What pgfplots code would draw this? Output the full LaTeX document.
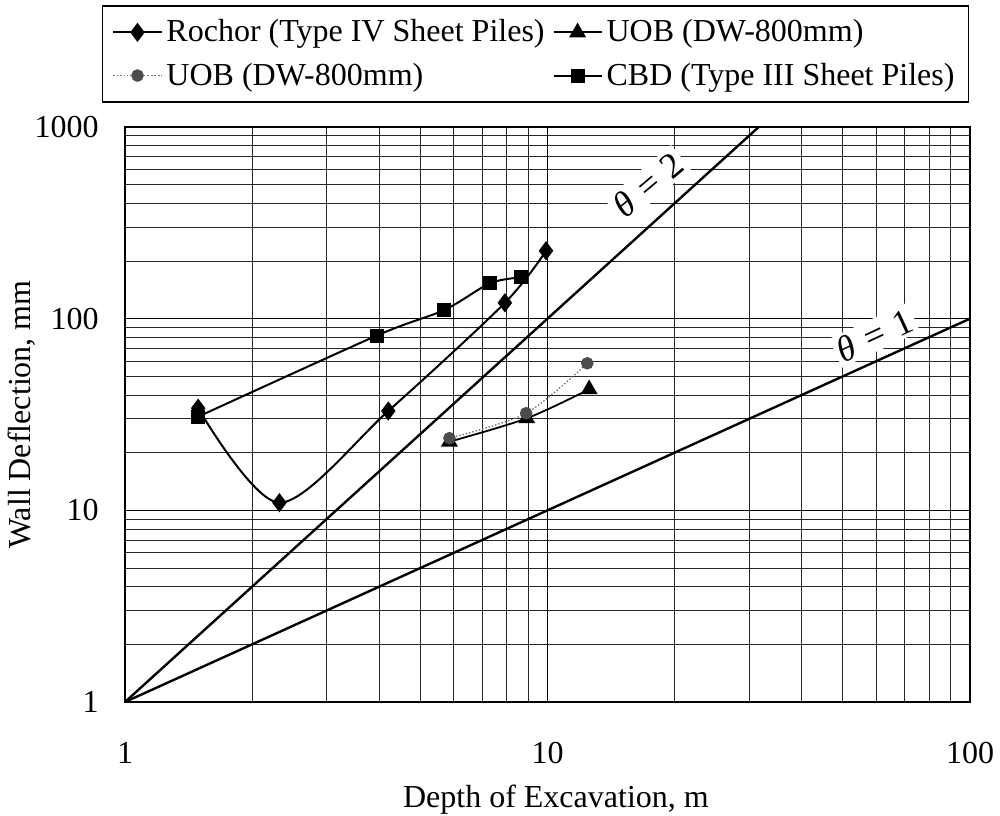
\documentclass[border=0pt]{standalone}
\usepackage{pgfplots}
\pgfplotsset{compat=1.18}
\usepackage{fontspec}
\setmainfont{Liberation Serif}

\begin{document}
\begin{tikzpicture}[font=\fontsize{16bp}{19bp}\selectfont]
\begin{loglogaxis}[
  at={(62.5bp,57bp)}, anchor=south west,
  scale only axis, width=422.5bp, height=287.5bp,
  xmin=1, xmax=100, ymin=1, ymax=1000,
  xtick={1,10,100}, xticklabels={1,10,100},
  ytick={1,10,100,1000}, yticklabels={1,10,100,1000},
  minor xtick={2,3,4,5,6,7,8,9,20,30,40,50,60,70,80,90},
  minor ytick={2,3,4,5,6,7,8,9,20,30,40,50,60,70,80,90,200,300,400,500,600,700,800,900},
  major tick length=0pt, minor tick length=0pt,
  grid=both,
  major grid style={black, line width=0.5bp},
  minor grid style={black!85, line width=0.4bp},
  axis line style={black, line width=1bp},
  xticklabel style={inner sep=0pt, anchor=north, yshift=-20bp},
  yticklabel style={inner sep=0pt, anchor=east, xshift=-13bp},
  xlabel={Depth of Excavation, m},
  ylabel={Wall Deflection, mm},
  every axis x label/.style={at={(axis description cs:0.51,-0.17)}, anchor=center},
  every axis y label/.style={at={(axis description cs:-0.122,0.5)}, anchor=center, rotate=90},
  legend columns=2, legend cell align=left,
  legend style={at={(axis description cs:0.4858,1.127)}, anchor=center,
    draw=black, line width=0.7bp, inner xsep=5bp, inner ysep=5bp, row sep=5bp,
    /tikz/every even column/.append style={column sep=2bp}},
  legend image code/.code={\draw[mark repeat=2, mark phase=2]
    plot coordinates {(0bp,0bp) (12bp,0bp) (24bp,0bp)};},
]
% reference lines: deflection = depth^theta
\addplot[black, line width=1.2bp, forget plot] coordinates {(1,1) (31.623,1000)};
\addplot[black, line width=1.2bp, forget plot] coordinates {(1,1) (100,100)};

\addplot[black, line width=1bp, smooth, mark=diamond*, mark size=4bp]
  coordinates {(1.49,34.1) (2.32,10.96) (4.20,33.0) (7.93,121) (9.92,226)};
\addlegendentry{Rochor (Type IV Sheet Piles)}

\addplot[black, line width=0.9bp, smooth, mark=triangle*, mark size=4bp]
  coordinates {(5.86,22.8) (8.93,30.2) (12.55,42.8)};
\addlegendentry{UOB (DW-800mm)}

\addplot[black!55, line width=0.7bp, densely dotted, smooth, mark=*, mark size=2.8bp,
  mark options={solid, fill=black!70, draw=black!70}]
  coordinates {(5.86,23.8) (8.90,32.1) (12.42,58.5)};
\addlegendentry{UOB (DW-800mm)}

\addplot[black, line width=1bp, smooth, mark=square*, mark size=3bp]
  coordinates {(1.49,30.8) (3.94,81.5) (5.70,111) (7.31,153) (8.64,164)};
\addlegendentry{CBD (Type III Sheet Piles)}

\node[fill=white, inner sep=1.5bp, rotate=40, font=\fontsize{18bp}{20bp}\selectfont]
  at (axis cs:17.3,500) {\textit{θ}\,\,=\,\,2};
\node[fill=white, inner sep=1.5bp, rotate=25, font=\fontsize{18bp}{20bp}\selectfont]
  at (axis cs:59.4,82) {\textit{θ}\,\,=\,\,1};
\end{loglogaxis}
\pgfresetboundingbox
\path[use as bounding box] (0,0) rectangle (500bp,408bp);
\end{tikzpicture}
\end{document}
